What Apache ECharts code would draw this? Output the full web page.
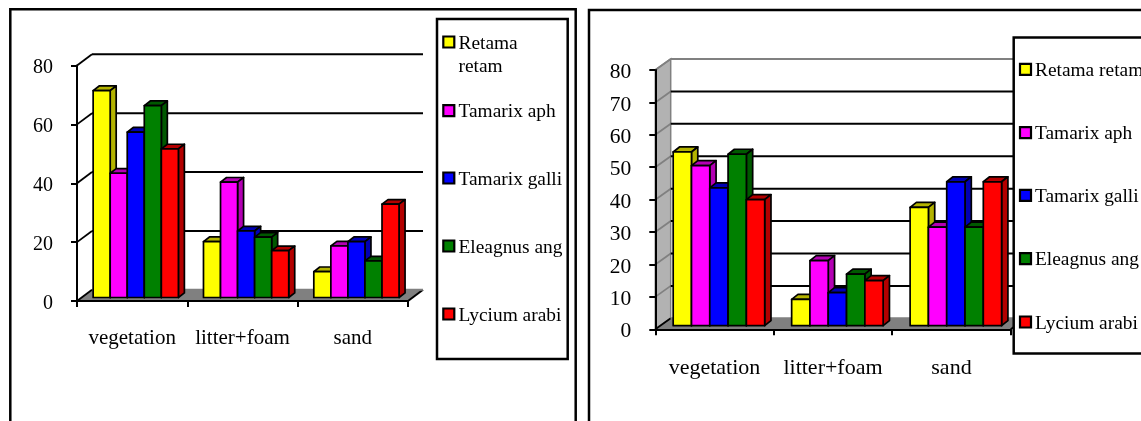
<!DOCTYPE html>
<html>
<head>
<meta charset="utf-8">
<style>
  html, body { margin: 0; padding: 0; background: #fff; overflow: hidden; }
  #chart { width: 1141px; height: 421px; }
</style>
</head>
<body>
<div id="chart"></div>
<script src="https://cdn.jsdelivr.net/npm/echarts@6/dist/echarts.min.js"></script>
<script>
const categories = ['vegetation', 'litter+foam', 'sand']
const speciesNames = ['Retama retam', 'Tamarix aph', 'Tamarix galli', 'Eleagnus ang', 'Lycium arabi']

// left chart
const leftRetama = [70.3, 19, 8.8]
const leftTamarixAph = [42.2, 39.2, 17.5]
const leftTamarixGalli = [56.2, 22.6, 19]
const leftEleagnus = [65.2, 20.5, 12.4]
const leftLycium = [50.5, 15.9, 31.7]
const leftTicks = [0, 20, 40, 60, 80]

// right chart
const rightRetama = [53.6, 8.1, 36.5]
const rightTamarixAph = [49.4, 20.1, 30.4]
const rightTamarixGalli = [42.5, 10.2, 44.4]
const rightEleagnus = [52.9, 15.9, 30.4]
const rightLycium = [38.9, 13.9, 44.4]
const rightTicks = [0, 10, 20, 30, 40, 50, 60, 70, 80]

const front = ['#ffff00', '#ff00ff', '#0000ff', '#008000', '#ff0000']
const side = ['#b3b300', '#b300b3', '#0000b3', '#005900', '#b30000']
const serif = '"Liberation Serif", "Times New Roman", serif'

const charts = [
  {
    grid: { left: 77, top: 65.5, width: 331, height: 235.5 },
    values: [leftRetama, leftTamarixAph, leftTamarixGalli, leftEleagnus, leftLycium],
    ticks: leftTicks,
    interval: 20,
    back: [15, 11.2],
    shift: [3.6, 3.5],
    depth: [6, 4.6],
    barWidth: 17.05,
    labelMargin: 27,
    catFont: 21,
    tickFont: 20,
    wall: null,
    edge: '#000',
    topLine: '#000'
  },
  {
    grid: { left: 655.3, top: 70, width: 355.4, height: 259.3 },
    values: [rightRetama, rightTamarixAph, rightTamarixGalli, rightEleagnus, rightLycium],
    ticks: rightTicks,
    interval: 10,
    back: [15.4, 11],
    shift: [4.4, 3.6],
    depth: [6.3, 5],
    barWidth: 18.3,
    labelMargin: 28,
    catFont: 22,
    tickFont: 21.5,
    wall: '#b2b2b2',
    edge: '#808080',
    topLine: '#808080'
  }
]

function wallSeries(c, idx) {
  return {
    type: 'custom',
    name: 'wall' + idx,
    xAxisIndex: idx,
    yAxisIndex: idx,
    silent: true,
    data: [[0, 0]],
    renderItem(params, api) {
      const box = params.coordSys
      const [dx, dy] = c.back
      const base = api.coord([0, 0])[1]
      const top = api.coord([0, 80])[1]
      const l = box.x
      const r = box.x + box.width
      const children = [{
        type: 'polygon',
        shape: { points: [[l, base], [l + dx, base - dy], [r + dx, base - dy], [r, base]] },
        style: { fill: '#808080', stroke: null }
      }, {
        type: 'line',
        shape: { x1: r, y1: base, x2: r + dx, y2: base - dy },
        style: { stroke: '#000', lineWidth: 2 }
      }]
      if (c.wall) {
        children.push({
          type: 'polygon',
          shape: { points: [[l, base], [l + dx, base - dy], [l + dx, top - dy], [l, top]] },
          style: { fill: c.wall, stroke: c.edge, lineWidth: 1.5 }
        })
      }
      return { type: 'group', children }
    }
  }
}

function gridSeries(c, idx) {
  return {
    type: 'custom',
    name: 'grid' + idx,
    xAxisIndex: idx,
    yAxisIndex: idx,
    silent: true,
    data: c.ticks.map(t => [0, t]),
    renderItem(params, api) {
      const box = params.coordSys
      const [dx, dy] = c.back
      const v = api.value(1)
      const y = api.coord([0, v])[1]
      const l = box.x
      const r = box.x + box.width
      const color = v === 80 ? c.topLine : (v === 0 ? '#808080' : '#000')
      return {
        type: 'group',
        children: [{
          type: 'line',
          shape: { x1: l, y1: y, x2: l + dx, y2: y - dy },
          style: { stroke: v === 0 ? '#000' : c.edge, lineWidth: 1.8 }
        }, {
          type: 'line',
          shape: { x1: l + dx, y1: y - dy, x2: r + dx, y2: y - dy },
          style: { stroke: color, lineWidth: 2 }
        }]
      }
    }
  }
}

function barSeries(c, idx, k) {
  return {
    type: 'custom',
    name: speciesNames[k],
    xAxisIndex: idx,
    yAxisIndex: idx,
    itemStyle: { color: front[k] },
    encode: { x: 0, y: 1 },
    data: c.values[k].map((v, i) => [i, v]),
    renderItem(params, api) {
      const base = api.coord([api.value(0), 0])
      const top = api.coord([api.value(0), api.value(1)])
      const [sx, sy] = c.shift
      const [dx, dy] = c.depth
      const x0 = base[0] + sx + (k - 2.5) * c.barWidth
      const x1 = x0 + c.barWidth
      const y0 = base[1] - sy
      const y1 = top[1] - sy
      const line = { stroke: '#000', lineWidth: 1.7, lineJoin: 'round' }
      return {
        type: 'group',
        children: [{
          type: 'polygon',
          shape: { points: [[x0, y1], [x0 + dx, y1 - dy], [x1 + dx, y1 - dy], [x1, y1]] },
          style: Object.assign({ fill: side[k] }, line)
        }, {
          type: 'polygon',
          shape: { points: [[x1, y1], [x1 + dx, y1 - dy], [x1 + dx, y0 - dy], [x1, y0]] },
          style: Object.assign({ fill: side[k] }, line)
        }, {
          type: 'rect',
          shape: { x: x0, y: y1, width: c.barWidth, height: y0 - y1 },
          style: Object.assign({ fill: front[k] }, line)
        }]
      }
    }
  }
}

function legendBox(box, keyX, textX, rows, labels) {
  const out = [{
    type: 'rect',
    z: 50,
    shape: box,
    style: { fill: '#fff', stroke: '#000', lineWidth: 2.5 }
  }]
  rows.forEach((y, k) => {
    const wrapped = labels[k].includes('\n')
    out.push({
      type: 'rect',
      z: 51,
      shape: { x: keyX, y: y - 5.5, width: 11, height: 11 },
      style: { fill: front[k], stroke: '#000', lineWidth: 2.2 }
    })
    out.push({
      type: 'text',
      z: 51,
      x: textX,
      y: wrapped ? y - 9.5 : y + 1.5,
      style: {
        text: labels[k],
        fill: '#000',
        font: '19.4px ' + serif,
        textAlign: 'left',
        textVerticalAlign: wrapped ? 'top' : 'middle',
        lineHeight: 23
      }
    })
  })
  return out
}

const graphicElements = [
  { type: 'rect', z: 60, shape: { x: 10.3, y: 9.3, width: 565.4, height: 430 }, style: { fill: 'none', stroke: '#000', lineWidth: 2.5 } },
  { type: 'rect', z: 60, shape: { x: 589, y: 10, width: 600, height: 430 }, style: { fill: 'none', stroke: '#000', lineWidth: 2.5 } }
]
  .concat(legendBox({ x: 437, y: 19, width: 130.7, height: 340 }, 443.3, 458.5,
    [42, 110.7, 178, 246, 314], ['Retama\nretam'].concat(speciesNames.slice(1))))
  .concat(legendBox({ x: 1013.7, y: 37.5, width: 180, height: 316 }, 1020, 1035,
    [69.3, 132.7, 195.3, 258.7, 322], speciesNames))

const series = []
charts.forEach((c, idx) => {
  series.push(wallSeries(c, idx), gridSeries(c, idx))
  speciesNames.forEach((n, k) => series.push(barSeries(c, idx, k)))
})

const chart = echarts.init(document.getElementById('chart'))
chart.setOption({
  animation: false,
  backgroundColor: '#fff',
  grid: charts.map(c => c.grid),
  xAxis: charts.map((c, idx) => ({
    type: 'category',
    gridIndex: idx,
    data: categories,
    z: 5,
    axisLine: { show: true, onZero: false, lineStyle: { color: '#000', width: 2 } },
    axisTick: { show: true, length: 6, lineStyle: { color: '#000', width: 2 } },
    axisLabel: { color: '#000', fontFamily: serif, fontSize: c.catFont, margin: c.labelMargin, interval: 0 }
  })),
  yAxis: charts.map((c, idx) => ({
    type: 'value',
    gridIndex: idx,
    min: 0,
    max: 80,
    interval: c.interval,
    z: 5,
    splitLine: { show: false },
    axisLine: { show: true, lineStyle: { color: '#000', width: 2 } },
    axisTick: { show: true, length: 6, lineStyle: { color: '#000', width: 2 } },
    axisLabel: { color: '#000', fontFamily: serif, fontSize: c.tickFont, margin: 24, verticalAlign: 'top', lineHeight: 5 }
  })),
  graphic: { elements: graphicElements },
  series
})
</script>
</body>
</html>
